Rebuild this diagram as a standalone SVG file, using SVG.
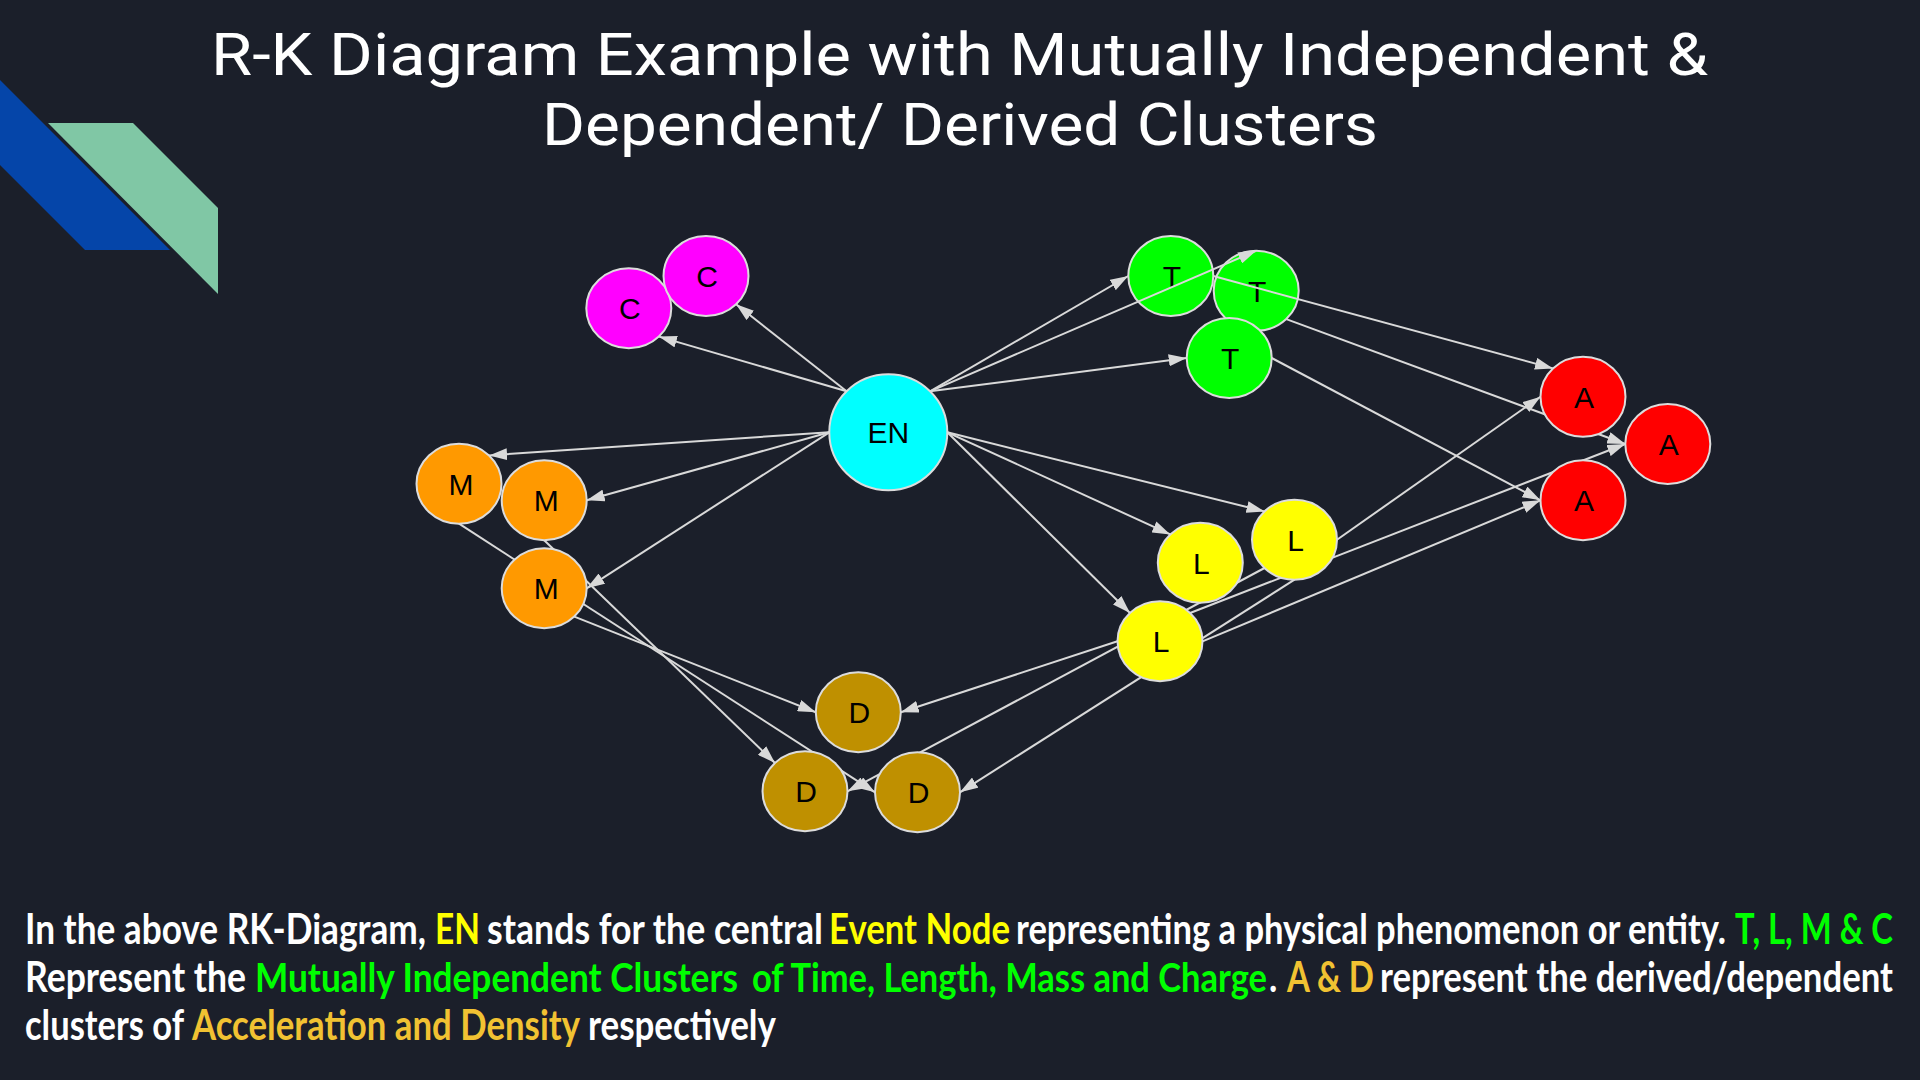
<svg xmlns="http://www.w3.org/2000/svg" width="1920" height="1080" viewBox="0 0 1920 1080">
  <defs>
    <marker id="arrow" viewBox="0 0 18 12" refX="18" refY="6" markerWidth="18" markerHeight="12" markerUnits="userSpaceOnUse" orient="auto">
      <path d="M0,0 L18,6 L0,12 z" fill="#d9d9d9"/>
    </marker>
    <style>
      .edge { stroke: #d9d9d9; stroke-width: 2; fill: none; marker-end: url(#arrow); }
      .node ellipse { stroke: #dcdcdc; stroke-width: 2; }
      .node text { font-family: "Liberation Sans", Arial, sans-serif; font-size: 30px; text-anchor: middle; fill: #000; }
      .title { font-family: Roboto, "Open Sans", "Liberation Sans", sans-serif; font-size: 59px; fill: #ffffff; }
      .caption { font-family: Lato, "Liberation Sans", sans-serif; font-weight: 700; font-size: 35px; fill: #ffffff; }
      .tight { font-size: 33px; }
      .yel { fill: #ffff00; }
      .grn { fill: #00ff00; }
      .gold { fill: #f1c232; }
      .en { fill: #00ffff; }
      .c { fill: #ff00ff; }
      .m { fill: #ff9900; }
      .t { fill: #00ff00; }
      .l { fill: #ffff00; }
      .a { fill: #ff0000; }
      .d { fill: #bf9000; }
    </style>
  </defs>

  <!-- slide background -->
  <rect x="0" y="0" width="1920" height="1080" fill="#1b1f2a"/>

  <!-- corner accent stripes -->
  <polygon points="0,80 170,250 85,250 0,165" fill="#0545a9"/>
  <polygon points="48,123 133,123 218,208 218,294" fill="#80c7a5"/>

  <!-- title -->
  <text class="title" x="211" y="75" textLength="1497" lengthAdjust="spacingAndGlyphs">R-K Diagram Example with Mutually Independent &amp;</text>
  <text class="title" x="542" y="145" textLength="836" lengthAdjust="spacingAndGlyphs">Dependent/ Derived Clusters</text>

  <!-- time nodes that sit under crossing edges -->
  <g id="T1" class="node"><ellipse class="t" cx="1170.8" cy="276" rx="42.5" ry="40"/><text x="1171.8" y="287">T</text></g>
  <g id="T2" class="node"><ellipse class="t" cx="1256.2" cy="290.8" rx="42.5" ry="40"/><text x="1257.2" y="301.8">T</text></g>

  <!-- connectors -->
  <g id="edges">
    <!-- event node to charge -->
    <line class="edge" x1="846.6" y1="391.3" x2="736.1" y2="304.3"/>
    <line class="edge" x1="846.6" y1="391.3" x2="658.9" y2="336.6"/>
    <!-- event node to mass -->
    <line class="edge" x1="829.3" y1="432.3" x2="489.1" y2="455.4"/>
    <line class="edge" x1="829.3" y1="432.3" x2="586.7" y2="500.3"/>
    <line class="edge" x1="829.3" y1="432.3" x2="586.7" y2="588.3"/>
    <!-- event node to time -->
    <line class="edge" x1="930" y1="391.3" x2="1128.3" y2="276"/>
    <line class="edge" x1="930" y1="391.3" x2="1256.2" y2="250.8"/>
    <line class="edge" x1="930" y1="391.3" x2="1186.7" y2="358"/>
    <!-- event node to length -->
    <line class="edge" x1="947.3" y1="432.3" x2="1264.5" y2="511.4"/>
    <line class="edge" x1="947.3" y1="432.3" x2="1170.3" y2="534.4"/>
    <line class="edge" x1="947.3" y1="432.3" x2="1130" y2="613"/>
    <!-- time to acceleration -->
    <line class="edge" x1="1213.3" y1="276" x2="1553" y2="368.4"/>
    <line class="edge" x1="1286.3" y1="319.1" x2="1625.3" y2="444"/>
    <line class="edge" x1="1271.7" y1="358" x2="1540.5" y2="500.3"/>
    <!-- length to acceleration -->
    <line class="edge" x1="1337" y1="539.7" x2="1540.5" y2="396.7"/>
    <line class="edge" x1="1190.1" y1="613" x2="1625.3" y2="444"/>
    <line class="edge" x1="1202.5" y1="641.3" x2="1540.5" y2="500.3"/>
    <!-- length to density -->
    <line class="edge" x1="1117.5" y1="641.3" x2="900.8" y2="712.3"/>
    <line class="edge" x1="1264.5" y1="568" x2="847.5" y2="791.3"/>
    <line class="edge" x1="1294.5" y1="579.7" x2="960" y2="792.3"/>
    <!-- mass to density -->
    <line class="edge" x1="459" y1="523.7" x2="875" y2="792.3"/>
    <line class="edge" x1="544.2" y1="540.3" x2="775" y2="763"/>
    <line class="edge" x1="574.3" y1="616.6" x2="815.8" y2="712.3"/>
  </g>

  <!-- event node -->
  <g id="EN" class="node"><ellipse class="en" cx="888.3" cy="432.3" rx="59" ry="58"/><text x="888.3" y="443.3">EN</text></g>

  <!-- charge -->
  <g id="C1" class="node"><ellipse class="c" cx="628.8" cy="308.3" rx="42.5" ry="40"/><text x="629.8" y="319.3">C</text></g>
  <g id="C2" class="node"><ellipse class="c" cx="706" cy="276" rx="42.5" ry="40"/><text x="707" y="287">C</text></g>

  <!-- mass -->
  <g id="M1" class="node"><ellipse class="m" cx="459" cy="483.7" rx="42.5" ry="40"/><text x="461" y="494.7">M</text></g>
  <g id="M2" class="node"><ellipse class="m" cx="544.2" cy="500.3" rx="42.5" ry="40"/><text x="546.2" y="511.3">M</text></g>
  <g id="M3" class="node"><ellipse class="m" cx="544.2" cy="588.3" rx="42.5" ry="40"/><text x="546.2" y="599.3">M</text></g>

  <!-- time -->
  <g id="T3" class="node"><ellipse class="t" cx="1229.2" cy="358" rx="42.5" ry="40"/><text x="1230.2" y="369">T</text></g>

  <!-- length -->
  <g id="L1" class="node"><ellipse class="l" cx="1200.3" cy="562.7" rx="42.5" ry="40"/><text x="1201.3" y="573.7">L</text></g>
  <g id="L2" class="node"><ellipse class="l" cx="1294.5" cy="539.7" rx="42.5" ry="40"/><text x="1295.5" y="550.7">L</text></g>
  <g id="L3" class="node"><ellipse class="l" cx="1160" cy="641.3" rx="42.5" ry="40"/><text x="1161" y="652.3">L</text></g>

  <!-- acceleration -->
  <g id="A1" class="node"><ellipse class="a" cx="1583" cy="396.7" rx="42.5" ry="40"/><text x="1584" y="407.7">A</text></g>
  <g id="A2" class="node"><ellipse class="a" cx="1667.8" cy="444" rx="42.5" ry="40"/><text x="1668.8" y="455">A</text></g>
  <g id="A3" class="node"><ellipse class="a" cx="1583" cy="500.3" rx="42.5" ry="40"/><text x="1584" y="511.3">A</text></g>

  <!-- density -->
  <g id="D1" class="node"><ellipse class="d" cx="858.3" cy="712.3" rx="42.5" ry="40"/><text x="859.3" y="723.3">D</text></g>
  <g id="D2" class="node"><ellipse class="d" cx="805" cy="791.3" rx="42.5" ry="40"/><text x="806" y="802.3">D</text></g>
  <g id="D3" class="node"><ellipse class="d" cx="917.5" cy="792.3" rx="42.5" ry="40"/><text x="918.5" y="803.3">D</text></g>

  <!-- caption, one run per colour; tall narrow lettering via a vertical stretch -->
  <g id="caption" transform="scale(1,1.2)">
    <text class="caption" x="25" y="786.67" textLength="401" lengthAdjust="spacingAndGlyphs">In the above RK-Diagram,</text>
    <text class="caption yel" x="435" y="786.67" textLength="45" lengthAdjust="spacingAndGlyphs">EN</text>
    <text class="caption" x="487" y="786.67" textLength="336" lengthAdjust="spacingAndGlyphs">stands for the central</text>
    <text class="caption yel" x="829" y="786.67" textLength="181" lengthAdjust="spacingAndGlyphs">Event Node</text>
    <text class="caption" x="1016" y="786.67" textLength="710" lengthAdjust="spacingAndGlyphs">representing a physical phenomenon or entity.</text>
    <text class="caption grn" x="1735" y="786.67" textLength="158" lengthAdjust="spacingAndGlyphs">T, L, M &amp; C</text>

    <text class="caption" x="25" y="826.67" textLength="221" lengthAdjust="spacingAndGlyphs">Represent the</text>
    <text class="caption tight grn" x="255" y="826.67" textLength="483" lengthAdjust="spacingAndGlyphs">Mutually Independent Clusters</text>
    <text class="caption tight grn" x="752" y="826.67" textLength="515" lengthAdjust="spacingAndGlyphs">of Time, Length, Mass and Charge</text>
    <text class="caption" x="1269" y="826.67">.</text>
    <text class="caption gold" x="1287" y="826.67" textLength="87" lengthAdjust="spacingAndGlyphs">A &amp; D</text>
    <text class="caption" x="1380" y="826.67" textLength="513" lengthAdjust="spacingAndGlyphs">represent the derived/dependent</text>

    <text class="caption" x="25" y="866.67" textLength="159" lengthAdjust="spacingAndGlyphs">clusters of</text>
    <text class="caption gold" x="192" y="866.67" textLength="388" lengthAdjust="spacingAndGlyphs">Acceleration and Density</text>
    <text class="caption" x="588" y="866.67" textLength="188" lengthAdjust="spacingAndGlyphs">respectively</text>
  </g>
</svg>
